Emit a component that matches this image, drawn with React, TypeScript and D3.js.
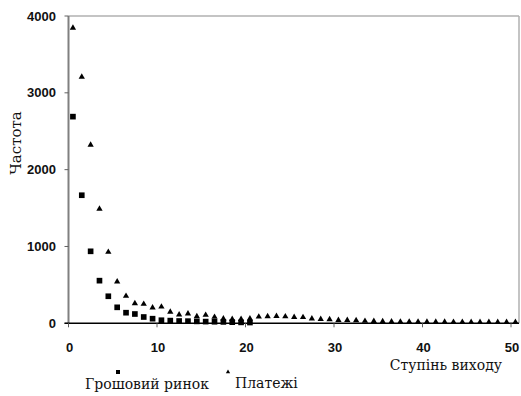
import React from "react";
import * as d3 from "d3";

const xPositions = [0.5,1.5,2.5,3.5,4.5,5.5,6.5,7.5,8.5,9.5,10.5,11.5,12.5,13.5,14.5,15.5,16.5,17.5,18.5,19.5,20.5,21.5,22.5,23.5,24.5,25.5,26.5,27.5,28.5,29.5,30.5,31.5,32.5,33.5,34.5,35.5,36.5,37.5,38.5,39.5,40.5,41.5,42.5,43.5,44.5,45.5,46.5,47.5,48.5,49.5,50.5];

const moneyMarket = [2690,1667,937,555,352,208,138,121,82,60,40,35,30,28,25,22,20,18,15,12,10];

const payments = [3845,3207,2322,1488,928,542,355,260,251,203,215,148,112,125,90,108,82,60,55,55,60,85,90,92,88,80,78,60,55,50,40,40,38,30,28,25,22,20,20,20,18,18,18,17,17,16,16,16,15,15,15];

const xTicks = [0,10,20,30,40,50];
const yTicks = [0,1000,2000,3000,4000];

const seriesNames = ["Грошовий ринок", "Платежі"];
const xTitle = "Ступінь виходу";
const yTitle = "Частота";

export default function App() {
  const W = 521, H = 396;
  const x = d3.scaleLinear().domain([0, 50]).range([68.5, 511]);
  const y = d3.scaleLinear().domain([0, 4000]).range([323.3, 16]);
  const sq = d3.symbol().type(d3.symbolSquare).size(32)()!;
  const tri = d3.symbol().type(d3.symbolTriangle).size(17)()!;
  const sqL = d3.symbol().type(d3.symbolSquare).size(16)()!;
  const triL = d3.symbol().type(d3.symbolTriangle).size(8)()!;
  const tickFont = "Liberation Sans, Arial, sans-serif";
  const serif = "DejaVu Serif";
  const right = 519;
  return (
    <svg width={W} height={H} style={{ position: "absolute", left: 0, top: 0, background: "#fff" }}>
      <line x1={x(0)} x2={right} y1={y(4000)} y2={y(4000)} stroke="#b0b0b0" strokeWidth={1.5} />
      <line x1={right} x2={right} y1={y(4000)} y2={y(0)} stroke="#b0b0b0" strokeWidth={1.5} />
      <line x1={x(0)} x2={x(0)} y1={y(4000)} y2={y(0)} stroke="#808080" strokeWidth={2} />
      {yTicks.map((t) => (
        <g key={"y" + t}>
          <line x1={x(0) - 4} x2={x(0)} y1={y(t)} y2={y(t)} stroke="#606060" strokeWidth={1} />
          <text x={56} y={y(t)} dy="0.35em" textAnchor="end" fontFamily={tickFont} fontWeight="bold" fontSize={13} fill="#111">{t}</text>
        </g>
      ))}
      <line x1={x(0) - 4} x2={right} y1={y(0)} y2={y(0)} stroke="#000" strokeWidth={1.5} />
      {xTicks.map((t) => (
        <g key={"x" + t}>
          <line x1={x(t)} x2={x(t)} y1={y(0)} y2={y(0) + 4} stroke="#606060" strokeWidth={1} />
          <text x={x(t) + 1} y={347} dy="0.35em" textAnchor="middle" fontFamily={tickFont} fontWeight="bold" fontSize={13} fill="#111">{t}</text>
        </g>
      ))}
      {payments.map((v, i) => (
        <path key={"p" + i} d={tri} transform={`translate(${x(xPositions[i])},${y(v)})`} fill="#000" />
      ))}
      {moneyMarket.map((v, i) => (
        <path key={"m" + i} d={sq} transform={`translate(${x(xPositions[i])},${y(v)})`} fill="#000" />
      ))}
      <text transform="translate(21,143) rotate(-90)" textAnchor="middle" fontFamily={serif} fontSize={15} fill="#111">{yTitle}</text>
      <text x={502} y={370} textAnchor="end" fontFamily={serif} fontSize={14} fill="#111">{xTitle}</text>
      <path d={sqL} transform="translate(118,372)" fill="#000" />
      <text x={85} y={389} fontFamily={serif} fontSize={14} fill="#111">{seriesNames[0]}</text>
      <path d={triL} transform="translate(228,372)" fill="#000" />
      <text x={235} y={388} fontFamily={serif} fontSize={14} fill="#111">{seriesNames[1]}</text>
    </svg>
  );
}
